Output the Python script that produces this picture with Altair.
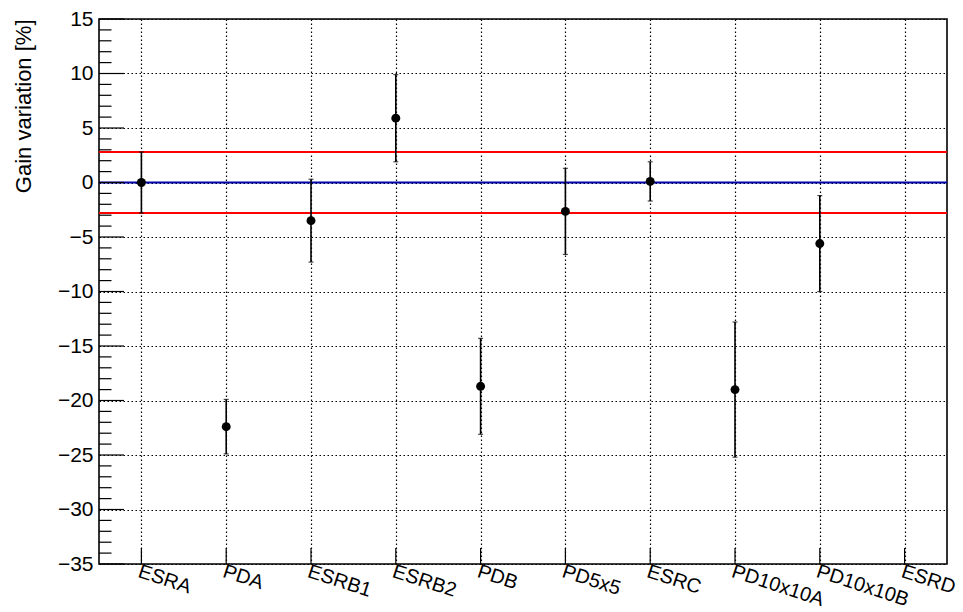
import altair as alt
import pandas as pd

# Detector samples along the x axis (ESRD has no measurement)
categories = ["ESRA", "PDA", "ESRB1", "ESRB2", "PDB", "PD5x5", "ESRC",
              "PD10x10A", "PD10x10B", "ESRD"]
measured = ["ESRA", "PDA", "ESRB1", "ESRB2", "PDB", "PD5x5", "ESRC",
            "PD10x10A", "PD10x10B"]
gain_var = [0.0, -22.4, -3.5, 5.9, -18.7, -2.65, 0.1, -19.0, -5.6]
gain_err = [2.8, 2.5, 3.8, 4.0, 4.4, 3.95, 1.8, 6.2, 4.4]

band = 2.8           # tolerance band (red lines)
major_ticks = list(range(-35, 16, 5))
minor_ticks = [v for v in range(-35, 16) if v % 5 != 0]

W, H = 848, 545

df = pd.DataFrame({"sample": measured, "gain": gain_var, "err": gain_err})
df["lo"] = df["gain"] - df["err"]
df["hi"] = df["gain"] + df["err"]

xscale = alt.Scale(type="point", domain=categories, padding=0.5)
yscale = alt.Scale(domain=[-35, 15], nice=False, zero=False)

FONT = "Liberation Sans"

x_axis = alt.Axis(
    title=None, ticks=False, domain=False,
    labelAngle=18, labelAlign="left", labelBaseline="top",
    labelPadding=-3, labelFontSize=20, labelFont=FONT, labelColor="black",
    labelOverlap=False, labelBound=False, labelFlush=False,
    grid=True, gridColor="black", gridDash=[1.5, 2.5], gridWidth=1.2, gridOpacity=1,
)
y_axis = alt.Axis(
    values=major_ticks, ticks=False, domain=False,
    labelFontSize=21, labelFont=FONT, labelColor="black", labelPadding=6,
    grid=True, gridColor="black", gridDash=[1.5, 2.5], gridWidth=1.2, gridOpacity=1,
    title="Gain variation [%]", titleFont=FONT, titleFontSize=22,
    titleFontWeight="normal", titleColor="black",
    titleAngle=-90, titleAlign="right", titleBaseline="middle",
    titleX=-76, titleY=0,
)


def X(field):
    return alt.X(field, type="nominal", scale=xscale, axis=x_axis, sort=categories)


def Y(field):
    return alt.Y(field, type="quantitative", scale=yscale, axis=y_axis)


# Horizontal reference lines
ref = pd.DataFrame({"v": [band, -band]})
red_lines = alt.Chart(ref).mark_rule(color="#ff0000", strokeWidth=2).encode(
    y=Y("v"), x=alt.value(0), x2=alt.value(W),
)
zero_line = alt.Chart(pd.DataFrame({"v": [0]})).mark_rule(color="#0000a8", strokeWidth=2).encode(
    y=Y("v"), x=alt.value(0), x2=alt.value(W),
)

# Inward tick marks on the y axis
ymaj = alt.Chart(pd.DataFrame({"v": major_ticks})).mark_rule(color="black", strokeWidth=1.2).encode(
    y=Y("v"), x=alt.value(0), x2=alt.value(25),
)
ymin = alt.Chart(pd.DataFrame({"v": minor_ticks})).mark_rule(color="black", strokeWidth=1.2).encode(
    y=Y("v"), x=alt.value(0), x2=alt.value(12.5),
)
# Inward tick marks on the x axis
xtk = alt.Chart(pd.DataFrame({"sample": categories})).mark_rule(color="black", strokeWidth=1.2).encode(
    x=X("sample"), y=alt.value(H), y2=alt.value(H - 16),
)

# Error bars with small end caps
bars = alt.Chart(df).mark_rule(color="black", strokeWidth=1.6).encode(
    x=X("sample"), y=Y("lo"), y2="hi:Q",
)
cap_lo = alt.Chart(df).mark_tick(color="black", size=5, thickness=1.2).encode(
    x=X("sample"), y=Y("lo"),
)
cap_hi = alt.Chart(df).mark_tick(color="black", size=5, thickness=1.2).encode(
    x=X("sample"), y=Y("hi"),
)
points = alt.Chart(df).mark_circle(color="black", size=80, opacity=1).encode(
    x=X("sample"), y=Y("gain"),
)

chart = alt.layer(
    red_lines, zero_line, ymaj, ymin, xtk, bars, cap_lo, cap_hi, points
).properties(
    width=W, height=H,
    autosize=alt.AutoSizeParams(type="none"),
    padding={"left": 99, "top": 19, "right": 16, "bottom": 48},
).configure(
    background="white",
    view=alt.ViewConfig(stroke="black", strokeWidth=1.6),
)

chart.save("out.html", embed_options={"renderer": "svg", "actions": False})
